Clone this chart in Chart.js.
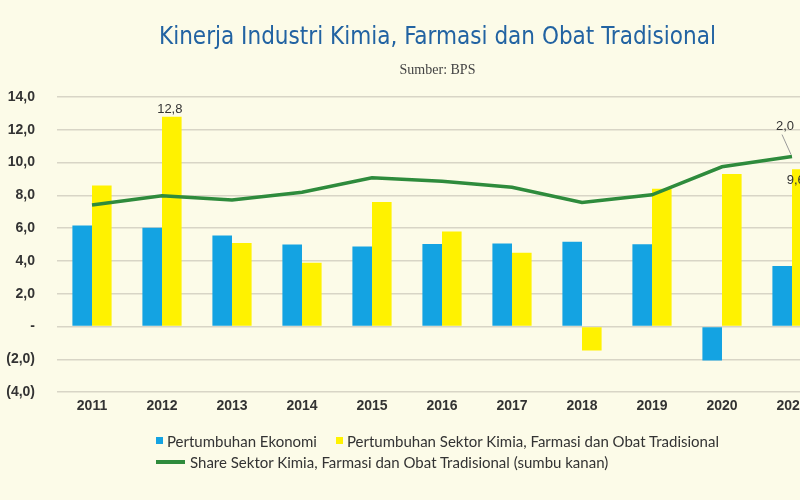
<!DOCTYPE html>
<html>
<head>
<meta charset="utf-8">
<script src="https://cdn.jsdelivr.net/npm/chart.js@4.4.1/dist/chart.umd.min.js"></script>
<style>
  html, body { margin: 0; padding: 0; overflow: hidden; background: #fcfbe8; }
  #wrap { position: relative; width: 875px; height: 500px; }
  #legend { position: absolute; left: 156px; top: 430px; font: 15px Lato, "Noto Sans", sans-serif; color: #333; }
  #legend .row { height: 21px; display: flex; align-items: center; }
  #legend .item { display: flex; align-items: center; margin-right: 19px; }
  #legend .box { width: 7px; height: 7px; margin-right: 4px; }
  #legend .ln { width: 29px; height: 4px; margin-right: 5px; }
</style>
</head>
<body>
<div id="wrap">
  <canvas id="chart" width="875" height="500"></canvas>
  <div id="legend"></div>
</div>
<script>
const years = ["2011", "2012", "2013", "2014", "2015", "2016", "2017", "2018", "2019", "2020", "2021"];
const ekonomi = [6.17, 6.03, 5.56, 5.01, 4.88, 5.03, 5.07, 5.17, 5.02, -2.07, 3.69];
const sektor = [8.6, 12.8, 5.1, 3.9, 7.6, 5.8, 4.5, -1.46, 8.4, 9.3, 9.6];
const share = [1.43, 1.54, 1.49, 1.58, 1.75, 1.71, 1.64, 1.46, 1.55, 1.88, 2.0];
const leftTicks = [-4, -2, 0, 2, 4, 6, 8, 10, 12, 14];

const blue = "#14a3e2";
const yellow = "#fff200";
const green = "#2e8b3c";

function fmt(v) {
  const s = Math.abs(v).toFixed(1).replace(".", ",");
  if (v === 0) return "-";
  return v < 0 ? "(" + s + ")" : s;
}

// value labels, placed from the drawn elements
const valueLabels = {
  id: "valueLabels",
  afterDatasetsDraw(chart) {
    const ctx = chart.ctx;
    ctx.save();
    ctx.font = "13px 'Liberation Sans', Arial, sans-serif";
    ctx.fillStyle = "#333";
    ctx.textAlign = "center";
    ctx.textBaseline = "bottom";

    const bar12 = chart.getDatasetMeta(1).data[1];
    ctx.fillText(fmt(sektor[1]), bar12.x - 2, bar12.y - 1);

    const bar21 = chart.getDatasetMeta(1).data[10];
    ctx.textBaseline = "middle";
    ctx.fillText(fmt(sektor[10]), bar21.x - 6, bar21.y + 11);

    const pt = chart.getDatasetMeta(2).data[10];
    ctx.strokeStyle = "#999";
    ctx.lineWidth = 1;
    ctx.beginPath();
    ctx.moveTo(pt.x - 1, pt.y - 2);
    ctx.lineTo(pt.x - 10, pt.y - 22);
    ctx.stroke();
    ctx.fillText(fmt(share[10]), pt.x - 7, pt.y - 30);
    ctx.restore();
  }
};

const chart = new Chart(document.getElementById("chart"), {
  type: "bar",
  data: {
    labels: years,
    datasets: [
      {
        label: "Pertumbuhan Ekonomi",
        data: ekonomi,
        backgroundColor: blue,
        yAxisID: "y",
        order: 1,
      },
      {
        label: "Pertumbuhan Sektor Kimia, Farmasi dan Obat Tradisional",
        data: sektor,
        backgroundColor: yellow,
        yAxisID: "y",
        order: 1,
      },
      {
        type: "line",
        label: "Share Sektor Kimia, Farmasi dan Obat Tradisional (sumbu kanan)",
        data: share,
        borderColor: green,
        backgroundColor: green,
        borderWidth: 3.5,
        pointRadius: 0,
        tension: 0,
        yAxisID: "y1",
        order: 0,
      },
    ],
  },
  options: {
    responsive: false,
    animation: false,
    layout: { padding: { left: 0, right: 0, bottom: 79 } },
    datasets: { bar: { categoryPercentage: 0.56, barPercentage: 1.0 } },
    plugins: {
      legend: { display: false },
      tooltip: { enabled: false },
      title: {
        display: true,
        text: "Kinerja Industri Kimia, Farmasi dan Obat Tradisional",
        color: "#2263a2",
        font: { family: "'Liberation Sans Narrow', 'DejaVu Sans Condensed', Roboto, sans-serif", size: 24, weight: "normal" },
        padding: { top: 23, bottom: 10 },
      },
      subtitle: {
        display: true,
        text: "Sumber: BPS",
        color: "#444",
        font: { family: "'Liberation Serif', 'DejaVu Serif', serif", size: 14 },
        padding: { top: 0, bottom: 18.4 },
      },
    },
    scales: {
      x: {
        grid: { display: false, drawTicks: false },
        border: { display: false },
        ticks: {
          color: "#333",
          padding: 6,
          font: { family: "'Liberation Sans', Arial, sans-serif", size: 14, weight: "bold" },
        },
      },
      y: {
        position: "left",
        min: leftTicks[0],
        max: leftTicks[leftTicks.length - 1],
        afterBuildTicks: (s) => { s.ticks = leftTicks.map((v) => ({ value: v })); },
        grid: { color: "#d8d5c6", lineWidth: 1.5, drawTicks: false },
        border: { display: false },
        ticks: {
          color: "#333",
          padding: 22,
          font: { family: "'Liberation Sans', Arial, sans-serif", size: 14, weight: "bold" },
          callback: (v) => fmt(v),
        },
        afterFit: (s) => { s.width = 57; },
      },
      y1: {
        // right axis lies outside the visible 800px crop
        position: "right",
        min: -0.77,
        max: 2.7,
        grid: { display: false, drawTicks: false },
        border: { display: false },
        ticks: { display: false },
        afterFit: (s) => { s.width = 48; },
      },
    },
  },
  plugins: [valueLabels],
});

// legend below the chart, two rows like the original
const legendEl = document.getElementById("legend");
const ds = chart.data.datasets;
legendEl.innerHTML = `
  <div class="row">
    <span class="item"><span class="box" style="background:${ds[0].backgroundColor}"></span>${ds[0].label}</span>
    <span class="item"><span class="box" style="background:${ds[1].backgroundColor}"></span>${ds[1].label}</span>
  </div>
  <div class="row">
    <span class="item"><span class="ln" style="background:${ds[2].borderColor}"></span>${ds[2].label}</span>
  </div>`;
</script>
</body>
</html>
